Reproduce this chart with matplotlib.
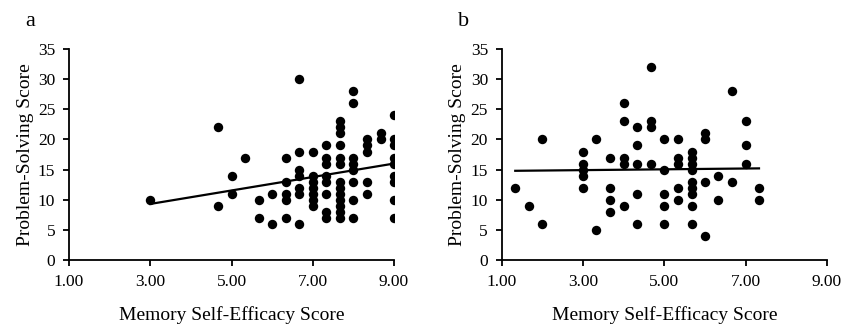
import numpy as np
import matplotlib
matplotlib.use("Agg")
from matplotlib import pyplot as plt

plt.rcParams['font.family'] = ['Liberation Serif', 'DejaVu Serif']

# Panel a: memory self-efficacy vs problem-solving (x in thirds)
a_x = [3.00,
       4.67, 4.67,
       5.00, 5.00,
       5.33,
       5.67, 5.67,
       6.00, 6.00,
       6.33, 6.33, 6.33, 6.33, 6.33,
       6.67, 6.67, 6.67, 6.67, 6.67, 6.67, 6.67,
       7.00, 7.00, 7.00, 7.00, 7.00, 7.00, 7.00,
       7.33, 7.33, 7.33, 7.33, 7.33, 7.33, 7.33, 7.33,
       7.67, 7.67, 7.67, 7.67, 7.67, 7.67, 7.67, 7.67, 7.67, 7.67, 7.67, 7.67, 7.67,
       8.00, 8.00, 8.00, 8.00, 8.00, 8.00, 8.00, 8.00,
       8.33, 8.33, 8.33, 8.33, 8.33,
       8.67, 8.67,
       9.00, 9.00, 9.00, 9.00, 9.00, 9.00, 9.00, 9.00, 9.00]
a_y = [10,
       22, 9,
       14, 11,
       17,
       10, 7,
       11, 6,
       17, 13, 11, 10, 7,
       30, 18, 15, 14, 12, 11, 6,
       18, 14, 13, 12, 11, 10, 9,
       19, 17, 16, 14, 13, 11, 8, 7,
       23, 22, 21, 19, 17, 16, 13, 12, 11, 10, 9, 8, 7,
       28, 26, 17, 16, 15, 13, 10, 7,
       20, 19, 18, 13, 11,
       21, 20,
       24, 20, 19, 17, 16, 14, 13, 10, 7]

# Panel b
b_x = [1.33,
       1.67,
       2.00, 2.00,
       3.00, 3.00, 3.00, 3.00, 3.00,
       3.33, 3.33,
       3.67, 3.67, 3.67, 3.67,
       4.00, 4.00, 4.00, 4.00, 4.00,
       4.33, 4.33, 4.33, 4.33, 4.33,
       4.67, 4.67, 4.67, 4.67,
       5.00, 5.00, 5.00, 5.00, 5.00,
       5.33, 5.33, 5.33, 5.33, 5.33,
       5.67, 5.67, 5.67, 5.67, 5.67, 5.67, 5.67, 5.67, 5.67,
       6.00, 6.00, 6.00, 6.00,
       6.33, 6.33,
       6.67, 6.67,
       7.00, 7.00, 7.00,
       7.33, 7.33]
b_y = [12,
       9,
       20, 6,
       18, 16, 15, 14, 12,
       20, 5,
       17, 12, 10, 8,
       26, 23, 17, 16, 9,
       22, 19, 16, 11, 6,
       32, 23, 22, 16,
       20, 15, 11, 9, 6,
       20, 17, 16, 12, 10,
       18, 17, 16, 15, 13, 12, 11, 9, 6,
       21, 20, 13, 4,
       14, 10,
       28, 13,
       23, 19, 16,
       12, 10]

# linear trend lines as shown in the figure (intercept, slope)
a_trend = (5.95, 1.117)
b_trend = (14.71, 0.067)

x_ticks = [1, 3, 5, 7, 9]
x_labels = ["1.00", "3.00", "5.00", "7.00", "9.00"]
y_ticks = [0, 5, 10, 15, 20, 25, 30, 35]

fig = plt.figure(figsize=(8.42, 3.26), dpi=100)
ax_a = fig.add_axes([0.082, 0.2025, 0.386, 0.647])
ax_b = fig.add_axes([0.596, 0.2025, 0.386, 0.647])

panels = [(ax_a, a_x, a_y, a_trend, "a"), (ax_b, b_x, b_y, b_trend, "b")]
for ax, xs, ys, trend, letter in panels:
    xs = np.array(xs)
    ys = np.array(ys)
    ax.scatter(xs, ys, s=46, color="black", zorder=3, linewidths=0)
    lx = np.array([xs.min(), xs.max()])
    ax.plot(lx, trend[0] + trend[1] * lx, color="black", lw=1.6, zorder=2)

    ax.set_xlim(1, 9)
    ax.set_ylim(0, 35)
    ax.set_xticks(x_ticks)
    ax.set_xticklabels(x_labels)
    ax.set_yticks(y_ticks)
    ax.spines["top"].set_visible(False)
    ax.spines["right"].set_visible(False)
    for s in ["left", "bottom"]:
        ax.spines[s].set_linewidth(1.3)
    ax.tick_params(direction="out", length=4, width=1.3, labelsize=12.5, pad=6)
    ax.set_xlabel("Memory Self-Efficacy Score", fontsize=14, labelpad=12)
    ax.set_ylabel("Problem-Solving Score", fontsize=14, labelpad=3)
    ax.text(-0.135, 1.13, letter, transform=ax.transAxes, fontsize=16,
            ha="left", va="center")

fig.savefig("out.png", dpi=100)
